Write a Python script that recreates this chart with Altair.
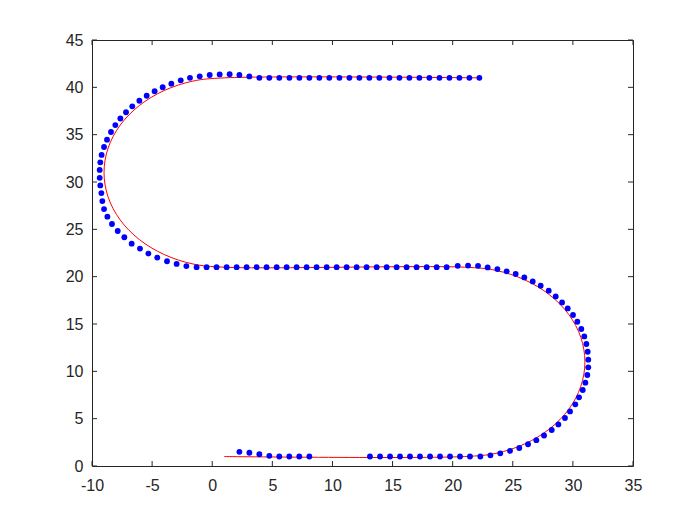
import altair as alt
import pandas as pd

# Reference path (red), in drawing order
ref_x = [1.0, 21.0, 23.6, 26.0, 28.07, 29.66, 30.66, 31.0, 30.66, 29.66, 28.07, 26.0, 23.6, 21.0,
         1.0, -1.6, -4.0, -6.07, -7.66, -8.66, -9.0, -8.66, -7.66, -6.07, -4.0, -1.6, 1.0, 22.3]
ref_y = [1.0, 1.0, 1.34, 2.34, 3.93, 6.0, 8.41, 11.0, 13.59, 16.0, 18.07, 19.66, 20.66, 21.0,
         21.0, 21.34, 22.34, 23.93, 26.0, 28.41, 31.0, 33.59, 36.0, 38.07, 39.66, 40.66, 41.0, 41.0]

# Tracked points (blue)
pts_x = [2.26, 3.09, 3.92, 4.75, 5.58, 6.41, 7.24, 8.08,
         13.12, 13.96, 14.79, 15.62, 16.45, 17.28, 18.12, 18.95, 19.78, 20.61, 21.44, 22.30,
         23.14, 23.96, 24.77, 25.54, 26.27, 26.96, 27.6, 28.24, 28.79, 29.34, 29.76, 30.2, 30.51,
         30.82, 31.04, 31.2, 31.28, 31.28, 31.23, 31.12, 30.95, 30.7, 30.37, 30.01, 29.57, 29.1,
         28.57, 27.99, 27.32, 26.66, 25.96, 25.24, 24.49, 23.72, 22.91, 22.11, 21.28, 20.42,
         19.50, 18.67, 17.84, 17.00, 16.17, 15.34, 14.51, 13.68, 12.84, 12.01, 11.18, 10.35, 9.52,
         8.68, 7.85, 7.02, 6.19, 5.36, 4.52, 3.69, 2.86, 2.03, 1.20, 0.36, -0.47, -1.30,
         -2.15, -2.96, -3.76, -4.57, -5.31, -6.01, -6.70, -7.31, -7.86, -8.34, -8.72, -9.0, -9.14,
         -9.22, -9.31, -9.36, -9.36, -9.31, -9.20, -9.0, -8.75, -8.42, -8.06, -7.64, -7.17, -6.65,
         -6.06, -5.45, -4.79, -4.12, -3.40, -2.62, -1.85, -1.04, -0.21, 0.62, 1.45, 2.26, 3.09,
         3.92, 4.75, 5.58, 6.42, 7.25, 8.08, 8.91, 9.74, 10.58, 11.41, 12.24, 13.07, 13.90, 14.74,
         15.57, 16.40, 17.23, 18.06, 18.90, 19.73, 20.56, 21.39, 22.22]
pts_y = [1.5, 1.4, 1.24, 1.07, 1.0, 1.0, 1.0, 1.0,
         1.0, 1.0, 1.0, 1.0, 1.0, 1.0, 1.0, 1.0, 1.0, 1.0, 1.0, 1.0,
         1.13, 1.34, 1.6, 1.9, 2.3, 2.73, 3.22, 3.8, 4.39, 5.07, 5.77, 6.51, 7.25,
         8.03, 8.8, 9.61, 10.42, 11.23, 12.07, 12.89, 13.69, 14.47, 15.24, 15.95, 16.65, 17.28,
         17.91, 18.52, 19.05, 19.5, 19.92, 20.28, 20.56, 20.8, 20.98, 21.14, 21.17, 21.14,
         21.0, 21.0, 21.0, 21.0, 21.0, 21.0, 21.0, 21.0, 21.0, 21.0, 21.0, 21.0, 21.0,
         21.0, 21.0, 21.0, 21.0, 21.0, 21.0, 21.0, 21.0, 21.0, 21.0, 21.0, 21.0, 21.0,
         21.12, 21.35, 21.63, 22.02, 22.44, 22.97, 23.49, 24.16, 24.82, 25.56, 26.34, 27.14, 27.98,
         28.83, 29.64, 30.44, 31.28, 32.08, 32.86, 33.7, 34.47, 35.28, 36.01, 36.71, 37.37, 37.99,
         38.58, 39.11, 39.59, 40.01, 40.39, 40.74, 41.0, 41.16, 41.3, 41.36, 41.38, 41.3, 41.15,
         41.0, 41.0, 41.0, 41.0, 41.0, 41.0, 41.0, 41.0, 41.0, 41.0, 41.0, 41.0, 41.0, 41.0,
         41.0, 41.0, 41.0, 41.0, 41.0, 41.0, 41.0, 41.0, 41.0]

x_ticks = [-10, -5, 0, 5, 10, 15, 20, 25, 30, 35]
y_ticks = [0, 5, 10, 15, 20, 25, 30, 35, 40, 45]

W, H = 541, 426
AX = "#262626"
FONT = "Liberation Sans"

ref_df = pd.DataFrame({"x": ref_x, "y": ref_y, "i": list(range(len(ref_x)))})
pts_df = pd.DataFrame({"x": pts_x, "y": pts_y})
xt_df = pd.DataFrame({"t": x_ticks})
yt_df = pd.DataFrame({"t": y_ticks})

xs = alt.Scale(domain=[-10, 35], nice=False, zero=False)
ys = alt.Scale(domain=[0, 45], nice=False, zero=False)

xaxis = alt.Axis(values=x_ticks, title=None, grid=False, domain=False, ticks=False,
                 labelFont=FONT, labelFontSize=16, labelColor=AX, labelPadding=11,
                 labelFlush=False, labelExpr="datum.value + ''")
yaxis = alt.Axis(values=y_ticks, title=None, grid=False, domain=False, ticks=False,
                 labelFont=FONT, labelFontSize=16, labelColor=AX, labelPadding=9,
                 labelExpr="datum.value + ''")

red = alt.Chart(ref_df).mark_line(color="#ff0000", strokeWidth=1, interpolate="catmull-rom").encode(
    x=alt.X("x:Q", scale=xs, axis=xaxis),
    y=alt.Y("y:Q", scale=ys, axis=yaxis),
    order="i:Q",
)

blue = alt.Chart(pts_df).mark_circle(color="#0000ff", size=34, opacity=1).encode(
    x=alt.X("x:Q", scale=xs),
    y=alt.Y("y:Q", scale=ys),
)

tl = 5
xt_bottom = alt.Chart(xt_df).mark_rule(color=AX, strokeWidth=1).encode(
    x=alt.X("t:Q", scale=xs), y=alt.value(H), y2=alt.value(H - tl))
xt_top = alt.Chart(xt_df).mark_rule(color=AX, strokeWidth=1).encode(
    x=alt.X("t:Q", scale=xs), y=alt.value(0), y2=alt.value(tl))
yt_left = alt.Chart(yt_df).mark_rule(color=AX, strokeWidth=1).encode(
    y=alt.Y("t:Q", scale=ys), x=alt.value(0), x2=alt.value(tl))
yt_right = alt.Chart(yt_df).mark_rule(color=AX, strokeWidth=1).encode(
    y=alt.Y("t:Q", scale=ys), x=alt.value(W), x2=alt.value(W - tl))

chart = alt.layer(red, blue, xt_bottom, xt_top, yt_left, yt_right).properties(
    width=W, height=H,
    autosize=alt.AutoSizeParams(type="none"),
    padding={"left": 84, "top": 32, "right": 59, "bottom": 51},
    background="white",
).configure_view(stroke=AX, strokeWidth=1)

chart.save("out.html", embed_options={"renderer": "svg", "actions": False})
